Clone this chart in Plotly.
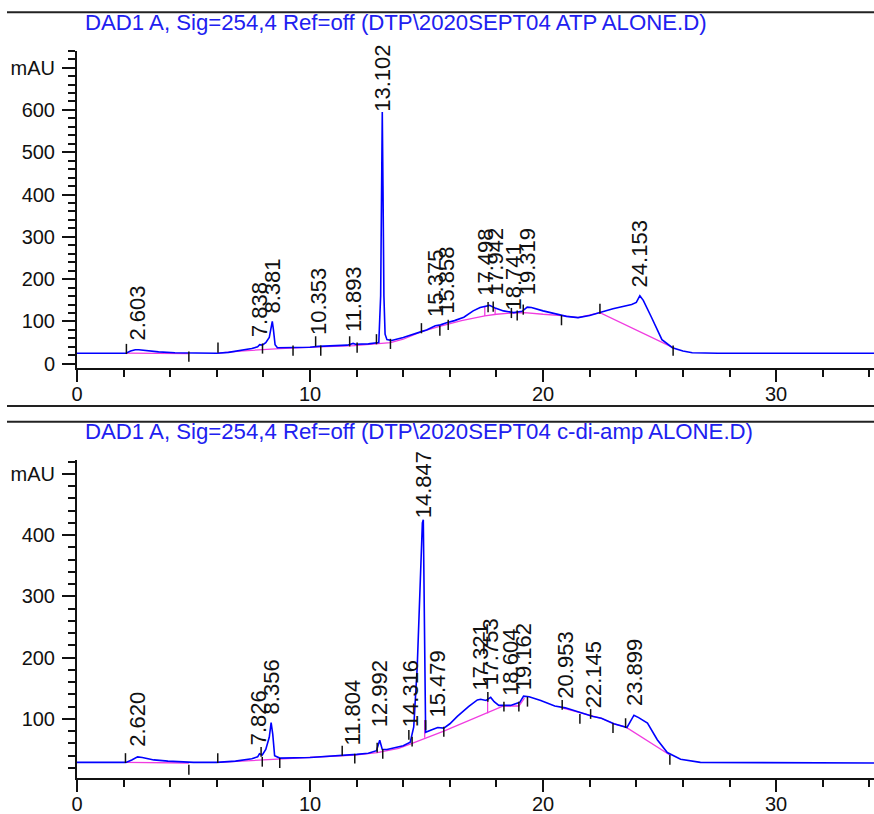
import plotly.graph_objects as go

# ---------------- Top panel: ATP alone ----------------
atp_title = r"DAD1 A, Sig=254,4 Ref=off (DTP\2020SEPT04 ATP ALONE.D)"
atp_t = [0, 2.1, 2.3, 2.5, 2.65, 2.9, 3.5, 4.2, 5.0, 6.0, 6.5, 7.0, 7.5, 7.75, 7.84, 7.95,
         8.1, 8.25, 8.33, 8.38, 8.43, 8.5, 8.6, 9.0, 10.0, 10.35, 11.0, 11.6, 11.85, 11.95,
         12.5, 12.95, 13.03, 13.07, 13.10, 13.13, 13.17, 13.22, 13.3, 13.5, 14.0, 14.78, 15.0,
         15.375, 15.6, 15.858, 16.2, 16.6, 17.0, 17.3, 17.5, 17.7, 17.942, 18.3, 18.741, 19.1,
         19.319, 19.5, 20.0, 20.7, 21.0, 21.5, 22.0, 22.44, 23.0, 23.8, 24.0, 24.153, 24.3,
         24.65, 25.1, 25.55, 26.0, 26.4, 27.5, 34.2]
atp_v = [25, 25, 30, 33, 33, 31, 28, 26, 25, 25, 27, 31, 36, 40, 45, 44,
         50, 62, 85, 100, 80, 45, 38, 38, 39, 41, 42, 44, 48, 46,
         47, 50, 160, 420, 595, 420, 160, 70, 57, 55, 62, 76, 80,
         90, 92, 97, 102, 110, 125, 133, 136, 138, 132, 125, 121, 124,
         134, 133, 125, 115, 112, 109, 114, 121, 130, 140, 145, 161, 150,
         110, 57, 38, 30, 26, 25, 25]
atp_base_t = [2.12, 4.8, None, 6.05, 7.0, 8.7, 9.3, 10.4, 11.9, 12.9, 13.45, 14.0, 14.78,
              15.6, 16.5, 17.5, 18.0, 18.7, 19.2, 20.0, 20.8, 21.5, 22.44, 25.58]
atp_base_v = [25, 24, None, 25, 30, 36, 38, 40, 43, 47, 50, 58, 76,
              89, 102, 113, 117, 120, 121, 117, 114, 109, 121, 38]
atp_drop_t = [17.498, 17.942]
atp_drop_lo = [113, 117]
atp_drop_hi = [136, 132]
atp_tick_t = [2.12, 4.8, 6.05, 7.96, 9.27, 10.24, 10.46, 11.7, 12.02, 12.85, 13.45, 14.78,
              15.57, 15.93, 17.64, 17.86, 18.64, 18.89, 19.15, 20.79, 22.44, 25.58]
atp_tick_v = [35, 17, 38, 36, 31, 53, 31, 53, 38, 58, 47, 84,
              78, 92, 134, 135, 120, 114, 128, 103, 130, 31]
atp_peak_t = [2.603, 7.838, 8.381, 10.353, 11.893, 13.102, 15.375, 15.858, 17.498,
              17.942, 18.741, 19.319, 24.153]
atp_peak_lbl = ["2.603", "7.838", "8.381", "10.353", "11.893", "13.102", "15.375", "15.858",
                "17.498", "17.942", "18.741", "19.319", "24.153"]
atp_lbl_base = [53, 61, 116, 65, 73, 593, 108, 116, 159, 159, 124, 159, 179]
atp_yticks = [0, 100, 200, 300, 400, 500, 600, 700]
atp_yticktext = ["0", "100", "200", "300", "400", "500", "600", "mAU"]

# ---------------- Bottom panel: c-di-amp alone ----------------
cda_title = r"DAD1 A, Sig=254,4 Ref=off (DTP\2020SEPT04 c-di-amp ALONE.D)"
cda_t = [0, 2.1, 2.35, 2.6, 2.8, 3.3, 3.9, 5.0, 6.0, 6.8, 7.5, 7.75, 7.83, 7.95, 8.1, 8.25,
         8.33, 8.4, 8.48, 8.7, 10.0, 11.0, 11.45, 12.0, 12.5, 12.85, 12.99, 13.1, 13.3, 14.0,
         14.3, 14.45, 14.6, 14.7, 14.75, 14.82, 14.86, 14.9, 14.93, 14.96, 15.2, 15.479, 15.74,
         16.0, 16.32, 16.8, 17.18, 17.321, 17.55, 17.753, 17.9, 18.1, 18.604, 19.0, 19.162,
         19.4, 19.9, 20.5, 20.953, 21.5, 21.9, 22.145, 22.5, 23.04, 23.6, 23.899, 24.1, 24.48,
         24.9, 25.33, 25.9, 26.75, 34.2]
cda_v = [29, 29, 33, 38, 37, 33, 31, 29, 29, 31, 35, 38, 43, 41, 50, 70,
         94, 75, 40, 36, 37, 39, 41, 42, 44, 48, 65, 50, 50, 56,
         62, 87, 185, 294, 316, 420, 425, 300, 120, 78, 82, 86, 85,
         92, 104, 120, 131, 132, 130, 135, 128, 122, 122, 127, 137,
         136, 130, 121, 118, 111, 106, 104, 101, 92, 86, 106, 102, 93,
         66, 45, 34, 29, 28]
cda_base_t = [2.08, 4.8, None, 6.04, 7.0, 7.95, 8.7, 9.5, 10.5, 11.38, 11.92, 12.88, 13.12,
              13.8, 14.38, 15.74, 18.3, 18.96, 19.2, None, 20.82, 21.5, 21.9, 22.5, 23.04,
              23.54, 25.44]
cda_base_v = [29, 28, None, 29, 31, 33, 35, 37, 38, 40, 41, 45, 47,
              52, 60, 80, 121, 121, 134, None, 118, 111, 106, 101, 92,
              87, 41]
cda_drop_t = [14.92, 17.62]
cda_drop_lo = [69, 109]
cda_drop_hi = [98, 131]
cda_tick_t = [2.08, 4.8, 6.04, 7.9, 7.95, 8.7, 11.38, 11.92, 12.88, 13.12, 14.24, 14.38,
              14.96, 15.74, 17.63, 18.32, 18.96, 19.33, 20.82, 21.58, 22.04, 23.0, 23.54,
              25.44]
cda_tick_v = [36, 17, 36, 46, 30, 28, 48, 35, 53, 43, 74, 63,
              90, 79, 136, 120, 120, 128, 123, 100, 108, 85, 93,
              33]
cda_peak_t = [2.620, 7.826, 8.356, 11.804, 12.992, 14.316, 14.847, 15.479, 17.321, 17.753,
              18.604, 19.162, 20.953, 22.145, 23.899]
cda_peak_lbl = ["2.620", "7.826", "8.356", "11.804", "12.992", "14.316", "14.847", "15.479",
                "17.321", "17.753", "18.604", "19.162", "20.953", "22.145", "23.899"]
cda_lbl_base = [52, 55, 106, 55, 85, 85, 425, 101, 145, 153, 136, 145, 131, 115, 120]
cda_yticks = [100, 200, 300, 400, 500]
cda_yticktext = ["100", "200", "300", "400", "mAU"]

# ---------------- styling ----------------
W, H = 874, 814
FONT = "Arial, Liberation Sans, sans-serif"
SIG = "#0000ff"
BASE = "#f03ce0"
TICK_HALF = {"y": 12, "y2": 8}


def seg(ts, lo, hi):
    xs, ys = [], []
    for t, a, b in zip(ts, lo, hi):
        xs += [t, t, None]
        ys += [a, b, None]
    return xs, ys


fig = go.Figure()
annotations = []
panels = [
    ("x", "y", atp_t, atp_v, atp_base_t, atp_base_v, atp_drop_t, atp_drop_lo, atp_drop_hi,
     atp_tick_t, atp_tick_v, atp_peak_t, atp_peak_lbl, atp_lbl_base),
    ("x2", "y2", cda_t, cda_v, cda_base_t, cda_base_v, cda_drop_t, cda_drop_lo, cda_drop_hi,
     cda_tick_t, cda_tick_v, cda_peak_t, cda_peak_lbl, cda_lbl_base),
]
for (xa, ya, st, sv, bt, bv, dt, dlo, dhi, tt, tv, pt, pl, pb) in panels:
    fig.add_trace(go.Scatter(x=bt, y=bv, mode="lines", xaxis=xa, yaxis=ya,
                             line=dict(color=BASE, width=1.3), hoverinfo="skip"))
    dx, dy = seg(dt, dlo, dhi)
    fig.add_trace(go.Scatter(x=dx, y=dy, mode="lines", xaxis=xa, yaxis=ya,
                             line=dict(color=BASE, width=1.3), hoverinfo="skip"))
    fig.add_trace(go.Scatter(x=st, y=sv, mode="lines", xaxis=xa, yaxis=ya,
                             line=dict(color=SIG, width=1.6)))
    h = TICK_HALF[ya]
    kx, ky = seg(tt, [v - h for v in tv], [v + h for v in tv])
    fig.add_trace(go.Scatter(x=kx, y=ky, mode="lines", xaxis=xa, yaxis=ya,
                             line=dict(color="#111111", width=1.5), hoverinfo="skip"))
    for t, lab, b in zip(pt, pl, pb):
        annotations.append(dict(x=t, y=b, xref=xa, yref=ya, text=lab, showarrow=False,
                                textangle=-90, xanchor="center", yanchor="bottom",
                                borderpad=0, font=dict(family=FONT, size=22, color="#111111")))

for txt, ypix in [(atp_title, 23), (cda_title, 432)]:
    annotations.append(dict(x=83 / W, y=1 - ypix / H, xref="paper", yref="paper", text=txt,
                            showarrow=False, xanchor="left", yanchor="middle",
                            font=dict(family=FONT, size=22.2, color="#2020f0")))

shapes = []
for ypix in [12.3, 406, 421.7]:
    shapes.append(dict(type="line", xref="paper", yref="paper", x0=7 / W, x1=1,
                       y0=1 - ypix / H, y1=1 - ypix / H, line=dict(color="#222222", width=2)))

axis_common = dict(showline=True, linecolor="#111111", linewidth=2, showgrid=False,
                   zeroline=False, ticks="outside", tickcolor="#111111", tickwidth=1.5,
                   automargin=False,
                   tickfont=dict(family=FONT, size=20, color="#111111"))
xminor = dict(ticks="outside", dtick=2, tick0=0, ticklen=7, tickwidth=1.5, tickcolor="#111111")
yminor = dict(ticks="outside", tickmode="linear", tick0=0, dtick=20, ticklen=7,
              tickwidth=1.5, tickcolor="#111111")
xdom = [77 / W, 1]
fig.update_layout(
    width=W, height=H, margin=dict(l=0, r=0, t=0, b=0, autoexpand=False),
    paper_bgcolor="white", plot_bgcolor="white", showlegend=False,
    annotations=annotations, shapes=shapes,
    xaxis=dict(domain=xdom, range=[0, 34.2], anchor="y", tick0=0, dtick=10, ticklen=12,
               ticklabelstandoff=-5, minor=xminor, **axis_common),
    yaxis=dict(domain=[1 - 368 / H, 1 - 50.7 / H], range=[-10, 740], anchor="x",
               tickmode="array", tickvals=atp_yticks, ticktext=atp_yticktext, ticklen=13,
               ticklabelstandoff=3, minor=yminor, **axis_common),
    xaxis2=dict(domain=xdom, range=[0, 34.2], anchor="y2", tick0=0, dtick=10, ticklen=12,
                ticklabelstandoff=-5, minor=xminor, **axis_common),
    yaxis2=dict(domain=[1 - 778 / H, 1 - 460 / H], range=[3.5, 522.5], anchor="x2",
                tickmode="array", tickvals=cda_yticks, ticktext=cda_yticktext, ticklen=13,
                ticklabelstandoff=3, minor=yminor, **axis_common),
)

fig.write_html("out.html", config={"displayModeBar": False},
               post_script="document.body.style.margin='0';"
                           "document.body.style.overflow='hidden';")
